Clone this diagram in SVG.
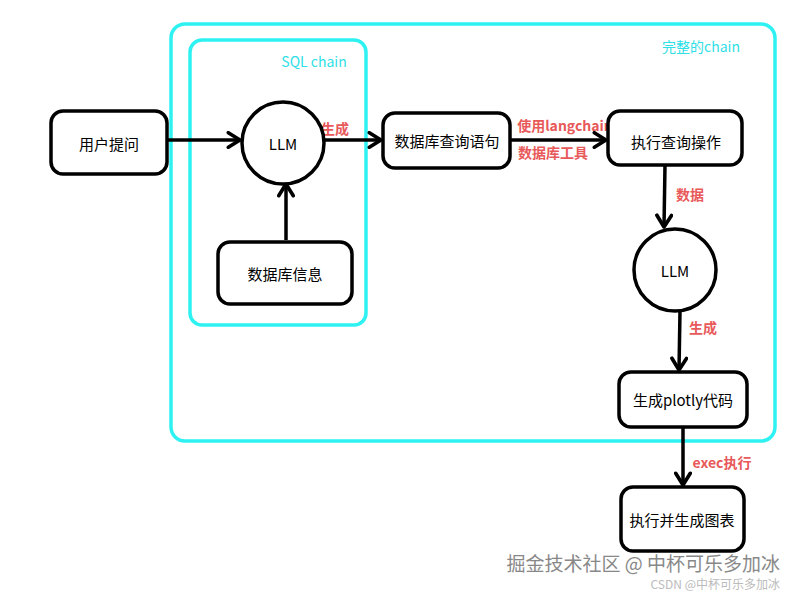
<svg xmlns="http://www.w3.org/2000/svg" width="800" height="600" viewBox="0 0 800 600">
<style>
.box{fill:#fff;stroke:#000;stroke-width:3.5}
.t{font-family:"Noto Sans CJK SC","Liberation Sans",sans-serif;font-size:15px;fill:#000;text-anchor:middle;dominant-baseline:central}
.lbl{font-family:"Noto Sans CJK SC","Liberation Sans",sans-serif;font-size:14px;fill:#e8595a;font-weight:bold;text-anchor:middle;dominant-baseline:central}
.cy{fill:none;stroke:#2ef2f2;stroke-width:3.5}
.ct{font-family:"Noto Sans CJK SC","Liberation Sans",sans-serif;font-size:14px;fill:#2ee0e6;text-anchor:middle;dominant-baseline:central}
.c line{stroke:#000;stroke-width:3.5;marker-end:url(#a)}
</style>
<defs>
<marker id="a" viewBox="0 0 12 12" refX="10" refY="6" markerWidth="5" markerHeight="5" orient="auto" markerUnits="strokeWidth">
<polyline points="2,1 10,6 2,11" fill="none" stroke="#000" stroke-width="2.5" stroke-linecap="round" stroke-linejoin="round"/>
</marker>
</defs>
<rect width="800" height="600" fill="#fff"/>
<g id="chain-full"><rect class="cy" x="171" y="24" width="604" height="417" rx="14"/><text class="ct" x="701" y="46">完整的chain</text></g>
<g id="chain-sql"><rect class="cy" x="190" y="40" width="176" height="285" rx="12"/><text class="ct" x="314" y="61">SQL chain</text></g>
<g class="c" id="connectors">
<line x1="167" y1="140" x2="240" y2="140"/>
<line x1="286" y1="240" x2="286" y2="184"/>
<line x1="325" y1="140" x2="381" y2="140"/>
<line x1="510" y1="140" x2="606" y2="140"/>
<line x1="665" y1="165" x2="664" y2="227"/>
<line x1="680" y1="311" x2="679" y2="370"/>
<line x1="683" y1="427" x2="683" y2="485"/>
<text class="lbl" x="335" y="128">生成</text>
<text class="lbl" x="565" y="125">使用langchain</text>
<text class="lbl" x="553" y="152">数据库工具</text>
<text class="lbl" x="690" y="194">数据</text>
<text class="lbl" x="703" y="327">生成</text>
<text class="lbl" x="722" y="462">exec执行</text>
</g>
<g id="n-user"><rect class="box" x="51" y="111" width="116" height="63" rx="12"/><text class="t" x="109" y="143">用户提问</text></g>
<g id="n-llm1"><circle class="box" cx="283" cy="143" r="41"/><text class="t" x="283" y="143">LLM</text></g>
<g id="n-dbinfo"><rect class="box" x="218" y="242" width="134" height="62" rx="12"/><text class="t" x="285" y="273">数据库信息</text></g>
<g id="n-sql"><rect class="box" x="383" y="113" width="127" height="55" rx="12"/><text class="t" x="447" y="140">数据库查询语句</text></g>
<g id="n-exec"><rect class="box" x="608" y="111" width="134" height="54" rx="12"/><text class="t" x="676" y="141">执行查询操作</text></g>
<g id="n-llm2"><circle class="box" cx="675" cy="270" r="41"/><text class="t" x="675" y="270">LLM</text></g>
<g id="n-plotly"><rect class="box" x="619" y="372" width="128" height="55" rx="12"/><text class="t" x="683" y="399">生成plotly代码</text></g>
<g id="n-chart"><rect class="box" x="621" y="487" width="123" height="64" rx="12"/><text class="t" x="682" y="519">执行并生成图表</text></g>
<g id="watermark" font-family="Noto Sans CJK SC,Liberation Sans,sans-serif" fill="#999">
<text x="780" y="571" font-size="19" text-anchor="end" fill="#888">掘金技术社区 @ 中杯可乐多加冰</text>
<text x="780" y="589" font-size="12" text-anchor="end" fill="#bbb">CSDN @中杯可乐多加冰</text>
</g>
</svg>
